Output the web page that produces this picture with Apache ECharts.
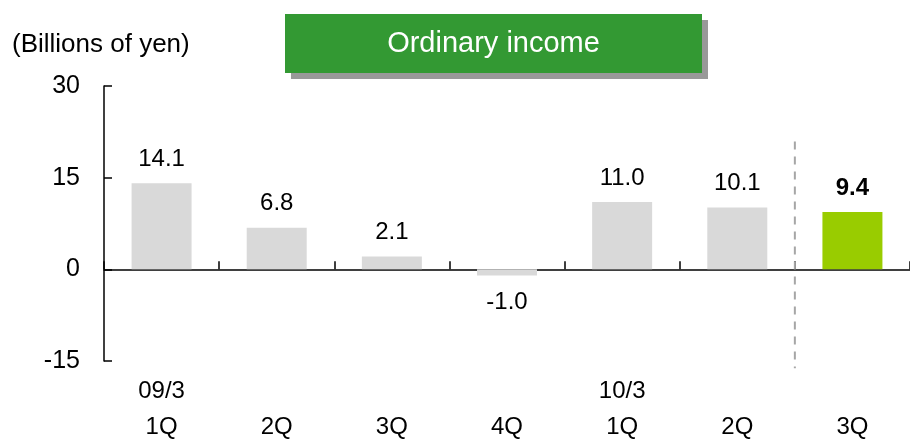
<!DOCTYPE html>
<html>
<head>
<meta charset="utf-8">
<script src="https://cdn.jsdelivr.net/npm/echarts@6/dist/echarts.min.js"></script>
<style>
  html, body { margin: 0; padding: 0; background: #fff; }
  #chart { width: 910px; height: 445px; }
</style>
</head>
<body>
<div id="chart"></div>
<script>
// Quarterly ordinary income, billions of yen
const quarters = ['1Q', '2Q', '3Q', '4Q', '1Q', '2Q', '3Q'];
const fiscalYears = ['09/3', '', '', '', '10/3', '', ''];
const income = [14.1, 6.8, 2.1, -1.0, 11.0, 10.1, 9.4];
const yTicks = [-15, 0, 15, 30];

const FONT = 'Liberation Sans, Arial, sans-serif';
const GREY_BAR = '#d9d9d9';
const GREEN_BAR = '#99cc00';
const latest = income.length - 1;

const chart = echarts.init(document.getElementById('chart'), null, { renderer: 'canvas' });

const barData = income.map((v, i) => {
  const isLatest = i === latest;
  return {
    value: v,
    itemStyle: { color: isLatest ? GREEN_BAR : GREY_BAR },
    label: {
      position: v < 0 ? 'bottom' : 'top',
      distance: v < 0 ? 15 : 12,
      fontWeight: isLatest ? 'bold' : 'normal'
    }
  };
});

chart.setOption({
  animation: false,
  textStyle: { fontFamily: FONT },
  grid: { left: 104, top: 86, width: 810, height: 282, containLabel: false },
  xAxis: [
    {
      type: 'category',
      data: quarters,
      axisLine: { onZero: true, lineStyle: { color: '#000', width: 1.5 } },
      axisTick: { show: true, inside: true, length: 8, lineStyle: { color: '#000', width: 1.5 } },
      axisLabel: { show: false },
      splitLine: { show: false }
    },
    {
      type: 'category',
      position: 'bottom',
      data: quarters,
      axisLine: { show: false, onZero: false },
      axisTick: { show: false },
      axisLabel: {
        margin: 12,
        fontFamily: FONT,
        fontSize: 24,
        color: '#000',
        lineHeight: 36,
        formatter: (q, i) => (fiscalYears[i] || ' ') + '\n' + q
      }
    }
  ],
  yAxis: {
    type: 'value',
    min: yTicks[0],
    max: yTicks[yTicks.length - 1],
    interval: 15,
    axisLine: { show: true, onZero: false, lineStyle: { color: '#000', width: 1.5 } },
    axisTick: { show: true, inside: true, length: 8, lineStyle: { color: '#000', width: 1.5 } },
    axisLabel: { margin: 24, fontFamily: FONT, fontSize: 25, color: '#000' },
    splitLine: { show: false }
  },
  series: [{
    type: 'bar',
    xAxisIndex: 0,
    data: barData,
    barWidth: 60,
    label: {
      show: true,
      fontFamily: FONT,
      fontSize: 24,
      color: '#000',
      formatter: p => p.value.toFixed(1)
    }
  }]
});

// Divider between the previous quarters and the latest one, plus headings
function drawOverlay() {
  const a = chart.convertToPixel({ xAxisIndex: 0 }, latest - 1);
  const b = chart.convertToPixel({ xAxisIndex: 0 }, latest);
  const dividerX = (a + b) / 2;
  const yTop = chart.convertToPixel({ yAxisIndex: 0 }, 20.9);
  const yBottom = chart.convertToPixel({ yAxisIndex: 0 }, -16.2);

  chart.setOption({
    graphic: [
      {
        type: 'line',
        shape: { x1: dividerX, y1: yTop, x2: dividerX, y2: yBottom },
        style: { stroke: '#a6a6a6', lineWidth: 2, lineDash: [8, 7] },
        z: 1
      },
      {
        type: 'text',
        left: 12,
        top: 32,
        style: { text: '(Billions of yen)', font: '26px ' + FONT, fill: '#000' }
      },
      {
        type: 'group',
        left: 285,
        top: 14,
        children: [
          { type: 'rect', shape: { x: 6, y: 6, width: 417, height: 59 }, style: { fill: '#999999' } },
          { type: 'rect', shape: { x: 0, y: 0, width: 417, height: 59 }, style: { fill: '#339933' } },
          {
            type: 'text',
            x: 208.5,
            y: 30,
            style: {
              text: 'Ordinary income',
              font: '29px ' + FONT,
              fill: '#fff',
              align: 'center',
              verticalAlign: 'middle',
              textShadowColor: '#000',
              textShadowOffsetX: 1.5,
              textShadowOffsetY: 1.5,
              textShadowBlur: 0
            }
          }
        ]
      }
    ]
  });
}
drawOverlay();
</script>
</body>
</html>
